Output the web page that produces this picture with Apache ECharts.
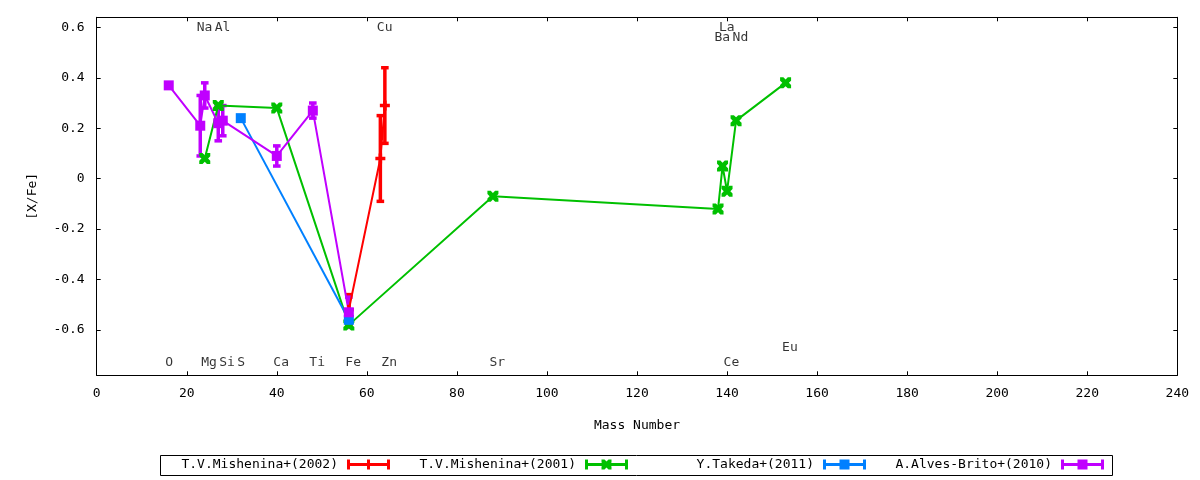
<!DOCTYPE html>
<html><head><meta charset="utf-8">
<script src="https://cdn.jsdelivr.net/npm/echarts@6/dist/echarts.min.js"></script>
<style>html,body{margin:0;padding:0;background:#fff}#c{width:1200px;height:480px}</style>
</head><body><div id="c"></div>
<script>
const FONT = 'DejaVu Sans Mono';

// Element labels
const elemNames  = ['O','Na','Mg','Al','Si','S','Ca','Ti','Fe','Cu','Zn','Sr','Ba','La','Ce','Nd','Eu'];
const elemMass   = [16, 23, 24, 27, 28, 32, 40, 48, 56, 63, 64, 88, 138, 139, 140, 142, 153];
const elemLabelY = [-0.73, 0.6, -0.73, 0.6, -0.73, -0.73, -0.73, -0.73, -0.73, 0.6, -0.73, -0.73, 0.56, 0.6, -0.73, 0.56, -0.67];

// Series
const seriesNames  = ['T.V.Mishenina+(2002)', 'T.V.Mishenina+(2001)', 'Y.Takeda+(2011)', 'A.Alves-Brito+(2010)'];
const seriesColors = ['#ff0000', '#00c000', '#0080ff', '#c000ff'];

const mish2002Mass = [56, 63, 64];
const mish2002Val  = [-0.52, 0.08, 0.29];
const mish2002Err  = [0.06, 0.17, 0.15];

const mish2001Mass = [24, 27, 40, 56, 88, 138, 139, 140, 142, 153];
const mish2001Val  = [0.08, 0.29, 0.28, -0.58, -0.07, -0.12, 0.05, -0.05, 0.23, 0.38];
const mish2001Err  = [0, 0, 0, 0, 0, 0, 0, 0, 0, 0];

const takedaMass = [32, 56];
const takedaVal  = [0.24, -0.56];
const takedaErr  = [0, 0];

const alvesMass = [16, 23, 24, 27, 28, 40, 48, 56];
const alvesVal  = [0.37, 0.21, 0.33, 0.22, 0.23, 0.09, 0.27, -0.53];
const alvesErr  = [0, 0.12, 0.05, 0.07, 0.06, 0.04, 0.03, 0.06];

const yTickValues = [-0.6, -0.4, -0.2, 0, 0.2, 0.4, 0.6];

const allMass = [mish2002Mass, mish2001Mass, takedaMass, alvesMass];
const allVal  = [mish2002Val, mish2001Val, takedaVal, alvesVal];
const allErr  = [mish2002Err, mish2001Err, takedaErr, alvesErr];

const PLUS = 'path://M0,3.25H10V6.75H0Z M3.25,0H6.75V10H3.25Z';
const XSYM = 'path://M0,0H3L5,2L7,0H10V3L8,5L10,7V10H7L5,8L3,10H0V7L2,5L0,3Z';
const symbols = [PLUS, XSYM, 'rect', 'rect'];
const symbolSizes = [10, 11, 10, 10];

const barPart = 'M0,0H3V10H0Z M0,3.5H43V6.5H0Z M40,0H43V10H40Z';
const legendIcons = [
  'path://' + barPart + ' M20,0H23V10H20Z',
  'path://' + barPart + ' M16.5,0H19.5L21.5,2L23.5,0H26.5V3L24.5,5L26.5,7V10H23.5L21.5,8L19.5,10H16.5V7L18.5,5L16.5,3Z',
  'path://' + barPart + ' M16.5,0H26.5V10H16.5Z',
  'path://' + barPart + ' M16.5,0H26.5V10H16.5Z'
];
const legendRight = [810, 572, 334, 96];

function errRender(params, api) {
  const x = api.value(0), y = api.value(1), e = api.value(2);
  if (!e) return null;
  const top = api.coord([x, y + e]);
  const bot = api.coord([x, y - e]);
  const hw = 3.8;
  const style = { stroke: api.visual('color'), lineWidth: 3.5, fill: null };
  return { type: 'group', children: [
    { type: 'line', shape: { x1: top[0], y1: top[1], x2: bot[0], y2: bot[1] }, style },
    { type: 'line', shape: { x1: top[0] - hw, y1: top[1], x2: top[0] + hw, y2: top[1] }, style },
    { type: 'line', shape: { x1: bot[0] - hw, y1: bot[1], x2: bot[0] + hw, y2: bot[1] }, style }
  ]};
}

const series = [{
  type: 'scatter',
  data: elemMass.map((m, i) => [m, elemLabelY[i], elemNames[i]]),
  symbol: 'circle', symbolSize: 0,
  itemStyle: { color: 'rgba(0,0,0,0)' },
  label: { show: true, position: 'right', distance: 0, offset: [-3.5, 0],
    formatter: p => p.data[2], color: '#000', fontFamily: FONT, fontSize: 13 },
  silent: true, z: 1
}];

for (let i = 0; i < 4; i++) {
  series.push({
    type: 'custom', name: 'err' + i,
    data: allMass[i].map((m, j) => [m, allVal[i][j], allErr[i][j]]),
    encode: { x: 0, y: 1 },
    renderItem: errRender,
    itemStyle: { color: seriesColors[i] },
    silent: true, z: 2
  });
  series.push({
    type: 'line', name: seriesNames[i],
    data: allMass[i].map((m, j) => [m, allVal[i][j]]),
    symbol: symbols[i], symbolSize: symbolSizes[i], showAllSymbol: true,
    color: seriesColors[i],
    lineStyle: { color: seriesColors[i], width: 2 },
    itemStyle: { color: seriesColors[i], borderWidth: 0 },
    silent: true, z: 2
  });
}

const axisLineStyle = { show: true, onZero: false, lineStyle: { color: '#000', width: 1 } };
const tickStyle = { show: true, inside: true, length: 4, lineStyle: { color: '#000', width: 1 } };
const labelFont = { color: '#000', fontFamily: FONT, fontSize: 13 };

const option = {
  animation: false,
  backgroundColor: '#fff',
  grid: { left: 96.7, right: 22.7, top: 17.3, bottom: 104.7 },
  xAxis: [{
    type: 'value', min: 0, max: 240, interval: 20, position: 'bottom',
    axisLine: axisLineStyle, axisTick: tickStyle,
    axisLabel: Object.assign({ margin: 12 }, labelFont),
    splitLine: { show: false },
    name: 'Mass Number', nameLocation: 'middle', nameGap: 44,
    nameTextStyle: labelFont
  }, {
    type: 'value', min: 0, max: 240, interval: 20, position: 'top',
    axisLine: axisLineStyle, axisTick: tickStyle,
    axisLabel: { show: false }, splitLine: { show: false }
  }],
  yAxis: [{
    type: 'value', min: -0.78, max: 0.64, position: 'left',
    axisLine: axisLineStyle,
    axisTick: Object.assign({ customValues: yTickValues }, tickStyle),
    axisLabel: Object.assign({ margin: 12, customValues: yTickValues,
      formatter: v => String(Math.round(v * 10) / 10) }, labelFont),
    splitLine: { show: false },
    name: '[X/Fe]', nameLocation: 'middle', nameGap: 58, nameRotate: 90,
    nameTextStyle: labelFont
  }, {
    type: 'value', min: -0.78, max: 0.64, position: 'right',
    axisLine: axisLineStyle,
    axisTick: Object.assign({ customValues: yTickValues }, tickStyle),
    axisLabel: { show: false }, splitLine: { show: false }
  }],
  legend: seriesNames.map((n, i) => ({
    data: [{ name: n, icon: legendIcons[i] }],
    right: legendRight[i], top: 458, orient: 'horizontal', align: 'right',
    itemWidth: 43, itemHeight: 10, padding: 0, selectedMode: false,
    itemStyle: { borderWidth: 0 },
    textStyle: Object.assign({ padding: [0, 4, 0, 0] }, labelFont)
  })),
  graphic: [{
    type: 'rect', shape: { x: 160.5, y: 455.5, width: 952, height: 20 },
    style: { fill: null, stroke: '#000', lineWidth: 1 }, silent: true
  }],
  series: series
};

const chart = echarts.init(document.getElementById('c'), null, { renderer: 'canvas' });
chart.setOption(option);
</script>
</body></html>
